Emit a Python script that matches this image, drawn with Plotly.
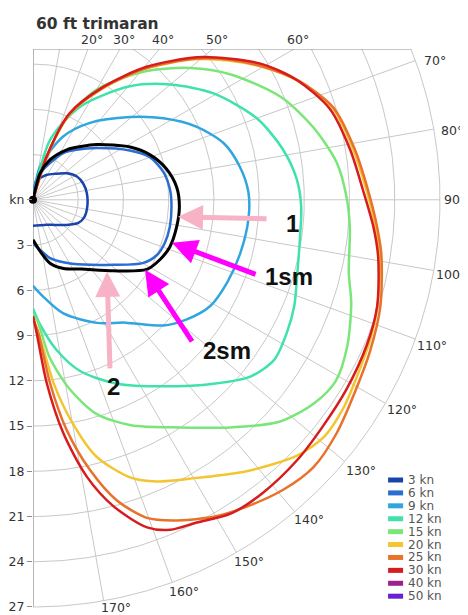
import numpy as np
import plotly.graph_objects as go

TITLE = "60 ft trimaran"

# ---------------- legend categories ----------------
LEGEND_LABELS = ["3 kn", "6 kn", "9 kn", "12 kn", "15 kn", "20 kn", "25 kn", "30 kn", "40 kn", "50 kn"]
LEGEND_COLORS = ["#1a44ac", "#2b6dd2", "#30a6de", "#40e2ac", "#7ae67a",
                 "#f3c531", "#e8722c", "#d61c1c", "#9e1f8e", "#6c1ed2"]

# ---------------- polar data: true wind angle (deg) / boat speed (kn) ----------------
TWA_3KN = [0, 10, 20, 29, 40, 52, 62, 72, 83, 97, 108, 117, 127, 140, 151, 165, 180]
BSP_3KN = [0, 1.35, 1.58, 1.9, 2.25, 2.85, 3.3, 3.5, 3.6, 3.63, 3.6, 3.38, 2.78, 2.17, 1.9, 1.75, 1.72]

TWA_6KN = [0, 15, 25, 33, 41, 51, 63, 70, 78, 86, 93, 101, 108, 114, 120, 129, 142, 154, 164, 172, 180]
BSP_6KN = [0, 1.8, 2.7, 3.7, 4.4, 5.45, 7.2, 8.25, 8.85, 9.12, 9.2, 9.25, 9.2, 9.0, 8.4, 6.85, 5.45, 4.6, 4.0, 3.35, 2.9]

TWA_REF = [0, 15, 23, 34, 42, 49, 61.5, 69, 77, 85, 92.5, 100.5, 109, 115, 121.5, 131.5, 145, 156, 165, 172, 180]
BSP_REF = [0, 1.83, 2.88, 4.0, 4.75, 5.58, 7.33, 8.32, 9.09, 9.57, 9.72, 9.7, 9.6, 9.32, 8.84, 7.11, 5.6, 4.98, 4.35, 3.46, 2.65]

TWA_9KN = [0, 12, 25.5, 36.5, 49.5, 58, 66, 73.5, 81, 88, 95, 104.5, 113, 121, 128, 134, 143, 152.5, 165, 174, 180]
BSP_9KN = [0, 2.25, 4.65, 6.35, 8.45, 10.2, 11.9, 13.2, 13.9, 14.3, 14.35, 14.2, 14.0, 13.7, 12.9, 12.0, 10.2, 9.2, 7.8, 6.45, 5.7]

TWA_12KN = [0, 16, 27, 40.5, 50, 59.5, 70, 78.5, 85.5, 91.5, 98.5, 105.5, 112, 117.5, 123.5, 129, 135.5, 145, 155.5, 164.5, 171, 177, 180]
BSP_12KN = [0, 4.15, 6.95, 9.9, 11.9, 13.9, 15.8, 16.9, 17.55, 17.8, 17.9, 18.2, 18.7, 19.0, 19.2, 18.6, 17.1, 15.1, 13.4, 11.8, 10.1, 8.2, 7.2]

TWA_15KN = [0, 17, 21.5, 30, 41.5, 50, 57.5, 67.5, 75.5, 83, 89.5, 95, 103, 108, 115, 121, 126, 132, 139, 147, 156.5, 163.5, 169, 174, 178, 180]
BSP_15KN = [0, 2.4, 5.45, 8.45, 11.4, 13.6, 15.5, 17.8, 19.2, 20.3, 20.8, 21.1, 21.5, 22.2, 23.0, 23.4, 23.0, 22.0, 20.0, 18.0, 16.3, 14.8, 12.8, 10.5, 8.0, 7.6]

TWA_20KN = [0, 17.5, 23, 32, 40.5, 49, 54.5, 60, 66, 73, 81, 88, 94.5, 99, 107, 112, 119, 124, 129, 134,
            141.8, 149.5, 156.3, 160.7, 166.1, 170, 173.5, 177.5, 180]
BSP_20KN = [0, 2.9, 6.1, 8.7, 11.4, 14.2, 15.9, 17.6, 19.3, 20.8, 21.5, 22.1, 22.8, 23.3, 23.9, 24.2, 24.5, 24.8, 24.9, 24.4,
            22.9, 21.4, 20.4, 19.5, 17.55, 15.0, 12.3, 8.9, 7.9]

TWA_25KN = [0, 17.5, 23, 32, 40.5, 49, 54.5, 60, 66, 73, 81, 88, 94.5, 99, 107, 114, 120.5, 127.5, 133.6, 139.2,
            145.1, 150.3, 156.4, 160.3, 164.4, 168.1, 171.7, 174.7, 177.7, 180]
BSP_25KN = [0, 2.95, 6.15, 8.75, 11.45, 14.25, 16.0, 17.65, 19.35, 20.85, 21.6, 22.2, 22.9, 23.4, 24.1, 24.5, 24.85, 25.4, 25.7, 25.4,
            24.8, 24.2, 23.2, 22.4, 20.7, 18.3, 15.4, 12.2, 8.85, 7.9]

TWA_30KN = [0, 17.5, 23, 32, 40.5, 49, 54.5, 59.5, 65.5, 73, 81, 88.3, 94.5, 99.3, 107.2, 113.5, 121.2, 128, 134.6, 141.9,
            147.8, 153.1, 157.4, 160.8, 165.3, 169, 172.6, 175.7, 178.4, 180]
BSP_30KN = [0, 3.0, 6.25, 8.85, 11.6, 14.4, 16.1, 17.7, 19.2, 20.6, 21.3, 21.9, 22.65, 23.2, 23.9, 24.15, 24.3, 24.4, 24.6, 24.7,
            24.6, 24.0, 23.7, 23.0, 21.0, 18.7, 15.6, 12.2, 8.85, 7.7]

# ---------------- axes / grid ----------------
RINGS = [3, 6, 9, 12, 15, 18, 21, 24, 27]
SPOKES = list(range(0, 181, 10))
TOP_LABEL_ANGLES = [20, 30, 40, 50, 60]
RIM_LABEL_ANGLES = [70, 80, 90, 100, 110, 120, 130, 140, 150, 160, 170]

# ---------------- layout geometry (screen pixels) ----------------
PAGE_OFFSET = 8            # default body margin of the html page
W, H = 468 - PAGE_OFFSET, 615 - PAGE_OFFSET
ORIGIN_PX = (33, 200)      # screen position of the pole
PX_PER_KN = 15.07
R_MAX = 27
TOP_KN = 10
X_MAX = 27.2
Y_MIN = -27.2
GRID = "#c8c8c8"
FRAME = "#8c8c8c"
TXT = "#333333"
FONT = "DejaVu Sans"

M_L = ORIGIN_PX[0] - PAGE_OFFSET
M_T = ORIGIN_PX[1] - PAGE_OFFSET - round(TOP_KN * PX_PER_KN)
PLOT_W = round(X_MAX * PX_PER_KN)
PLOT_H = round((TOP_KN - Y_MIN) * PX_PER_KN)
M_R = W - M_L - PLOT_W
M_B = H - M_T - PLOT_H


def px2x(p):
    return (p - ORIGIN_PX[0]) / PX_PER_KN


def px2y(p):
    return (ORIGIN_PX[1] - p) / PX_PER_KN


def polar_xy(angles, speeds):
    a = np.radians(np.asarray(angles, dtype=float))
    s = np.asarray(speeds, dtype=float)
    return s * np.sin(a), s * np.cos(a)


fig = go.Figure()

# rings
tg = np.radians(np.linspace(0, 180, 361))
rx, ry = [], []
for r in RINGS:
    rx += list(r * np.sin(tg)) + [None]
    ry += list(r * np.cos(tg)) + [None]
fig.add_trace(go.Scatter(x=rx, y=ry, mode="lines", line=dict(color=GRID, width=1),
                         hoverinfo="skip", showlegend=False))
# spokes
sx, sy = [], []
for a in SPOKES:
    t = np.radians(a)
    sx += [0, R_MAX * np.sin(t), None]
    sy += [0, R_MAX * np.cos(t), None]
fig.add_trace(go.Scatter(x=sx, y=sy, mode="lines", line=dict(color=GRID, width=1),
                         hoverinfo="skip", showlegend=False))
# frame (top + left edges)
top_end = np.sqrt(R_MAX ** 2 - TOP_KN ** 2)
fig.add_trace(go.Scatter(x=[top_end, 0, 0], y=[TOP_KN, TOP_KN, -R_MAX], mode="lines",
                         line=dict(color=FRAME, width=1), hoverinfo="skip", showlegend=False,
                         cliponaxis=False))

# polar curves
SERIES = [
    ("3 kn", TWA_3KN, BSP_3KN, LEGEND_COLORS[0], 2.5),
    ("6 kn", TWA_6KN, BSP_6KN, LEGEND_COLORS[1], 2.5),
    ("9 kn", TWA_9KN, BSP_9KN, LEGEND_COLORS[2], 2.5),
    ("12 kn", TWA_12KN, BSP_12KN, LEGEND_COLORS[3], 2.5),
    ("15 kn", TWA_15KN, BSP_15KN, LEGEND_COLORS[4], 2.5),
    ("20 kn", TWA_20KN, BSP_20KN, LEGEND_COLORS[5], 2.5),
    ("25 kn", TWA_25KN, BSP_25KN, LEGEND_COLORS[6], 2.5),
    ("30 kn", TWA_30KN, BSP_30KN, LEGEND_COLORS[7], 2.5),
    ("ref", TWA_REF, BSP_REF, "#000000", 3),
]
for name, ang, spd, col, lw in SERIES:
    x, y = polar_xy(ang, spd)
    fig.add_trace(go.Scatter(x=x, y=y, mode="lines", name=name,
                             line=dict(color=col, width=lw, shape="spline", smoothing=0.8),
                             hoverinfo="skip", showlegend=False))

# origin dot
fig.add_trace(go.Scatter(x=[0], y=[0], mode="markers", marker=dict(color="black", size=8),
                         cliponaxis=False, hoverinfo="skip", showlegend=False))

annotations = []
# top angle labels
for a in TOP_LABEL_ANGLES:
    annotations.append(dict(x=TOP_KN * np.tan(np.radians(a)), y=TOP_KN, text=f"{a}°",
                            showarrow=False, xanchor="center", yanchor="bottom",
                            xshift=4, yshift=0, font=dict(family=FONT, size=12.5, color=TXT)))
# rim angle labels
RIM_NUDGE = {70: (7, 0), 80: (5, 1), 90: (2, 0), 100: (0, 4), 110: (0, 6), 120: (0, 6.5),
             130: (-1, 8.5), 140: (-2.5, 8), 150: (-4.5, 9.5), 160: (-5, 9.5), 170: (-5, 6.5)}
for a in RIM_LABEL_ANGLES:
    t = np.radians(a)
    dx, dy = RIM_NUDGE[a]
    annotations.append(dict(x=R_MAX * np.sin(t), y=R_MAX * np.cos(t), text=f"{a}°",
                            showarrow=False, xanchor="left", yanchor="middle",
                            xshift=dx, yshift=-dy, font=dict(family=FONT, size=12.5, color=TXT)))

# arrows with labels
ARROWS = [
    # text, text centre px, tip px, tail px, colour
    ("1", (292, 224), (178, 217), (268, 219), "#f7b2c6"),
    ("1sm", (289, 277), (172, 243), (257, 275), "#ff00ff"),
    ("2sm", (227, 351), (145, 270), (193, 343), "#ff00ff"),
    ("2", (113, 387), (107, 272), (110, 370), "#f7b2c6"),
]
for txt, tpos, tip, tail, col in ARROWS:
    annotations.append(dict(x=px2x(tip[0]), y=px2y(tip[1]), ax=px2x(tail[0]), ay=px2y(tail[1]),
                            axref="x", ayref="y", text="", showarrow=True, arrowhead=2,
                            arrowsize=1.0, arrowwidth=5, arrowcolor=col, standoff=0, startstandoff=0))
    annotations.append(dict(x=px2x(tpos[0]), y=px2y(tpos[1]), text=f"<b>{txt}</b>", showarrow=False,
                            xanchor="center", yanchor="middle",
                            font=dict(family="Liberation Sans", size=24, color="#111111")))

# custom legend
shapes = []
for i, (lab, col) in enumerate(zip(LEGEND_LABELS, LEGEND_COLORS)):
    yc = 480 + i * 12.9
    shapes.append(dict(type="line", xref="x", yref="y", x0=px2x(388), x1=px2x(403),
                       y0=px2y(yc), y1=px2y(yc), line=dict(color=col, width=5)))
    annotations.append(dict(x=px2x(406), y=px2y(yc), text=lab, showarrow=False, xanchor="left",
                            yanchor="middle", font=dict(family=FONT, size=12, color="#555555")))

fig.update_layout(
    width=W, height=H,
    margin=dict(l=M_L, r=M_R, t=M_T, b=M_B, autoexpand=False),
    paper_bgcolor="white", plot_bgcolor="white",
    showlegend=False,
    title=dict(text=f"<b>{TITLE}</b>", x=(36 - PAGE_OFFSET) / W, xanchor="left", xref="container",
               y=1 - (24 - PAGE_OFFSET) / H, yanchor="middle", yref="container",
               font=dict(family=FONT, size=15.5, color=TXT)),
    xaxis=dict(range=[0, X_MAX], visible=False, fixedrange=True),
    yaxis=dict(range=[Y_MIN, TOP_KN], tickvals=[0] + [-r for r in RINGS],
               ticktext=["kn"] + [str(r) for r in RINGS], ticks="outside", ticklen=5,
               tickcolor=FRAME, showgrid=False, zeroline=False, showline=False,
               automargin=False, fixedrange=True,
               tickfont=dict(family=FONT, size=12.5, color=TXT)),
    annotations=annotations,
    shapes=shapes,
)

fig.write_html("out.html", config={"displayModeBar": False})
